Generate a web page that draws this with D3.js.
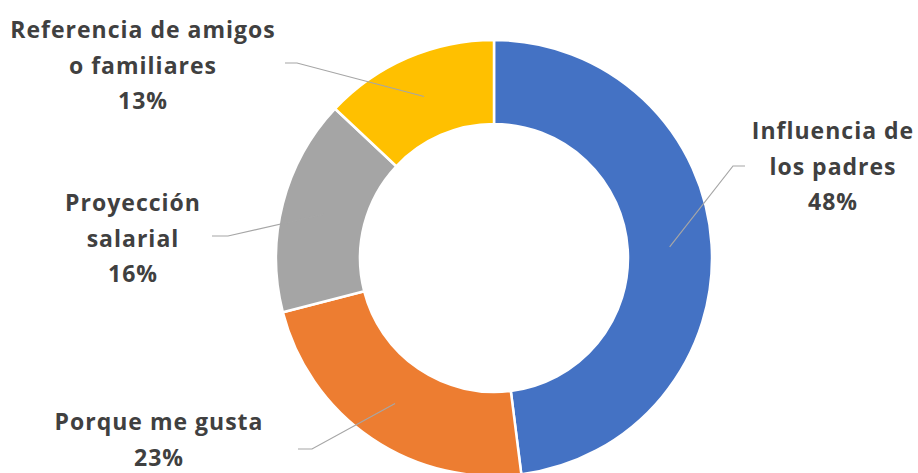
<!DOCTYPE html>
<html>
<head>
<meta charset="utf-8">
<script src="https://cdn.jsdelivr.net/npm/d3@7"></script>
<style>
  html, body { margin: 0; padding: 0; background: #fff; }
  svg { display: block; }
</style>
</head>
<body>
<svg id="chart" width="918" height="473"></svg>
<script>
// Motivos de elección: categories, shares and colours
const categories = ["Influencia de los padres", "Porque me gusta", "Proyección salarial", "Referencia de amigos o familiares"];
const values = [48, 23, 16, 13];
const colors = ["#4472C4", "#ED7D31", "#A5A5A5", "#FFC000"];
// Wrapped label lines for each category
const labelLines = [
  ["Influencia de", "los padres"],
  ["Porque me gusta"],
  ["Proyección", "salarial"],
  ["Referencia de amigos", "o familiares"]
];

const W = 918, H = 473;
const cx = 494, cy = 258;
const rOuter = 218, rInner = 134;

// label block anchor (centre x, first baseline y) and leader elbow points
const labelPos = [
  { x: 833, y: 139, elbow: [[745, 166], [733, 166]] },
  { x: 159, y: 430, elbow: [[298, 449], [312, 449]] },
  { x: 133, y: 211, elbow: [[212, 236], [228, 236]] },
  { x: 143, y: 38,  elbow: [[285, 63], [297, 63]] }
];

const svg = d3.select("#chart");
const g = svg.append("g").attr("transform", `translate(${cx},${cy})`);

const data = categories.map((c, i) => ({ cat: c, value: values[i], color: colors[i], lines: labelLines[i], pos: labelPos[i] }));

const pie = d3.pie().sort(null).value(d => d.value);
const arcs = pie(data);

const arc = d3.arc().innerRadius(rInner).outerRadius(rOuter);

g.selectAll("path.slice")
  .data(arcs)
  .join("path")
  .attr("class", "slice")
  .attr("d", arc)
  .attr("fill", d => d.data.color)
  .attr("stroke", "#fff")
  .attr("stroke-width", 2.5)
  .attr("stroke-linejoin", "round");

// leader lines from the label to the slice centroid
const line = d3.line();
svg.selectAll("path.leader")
  .data(arcs)
  .join("path")
  .attr("class", "leader")
  .attr("fill", "none")
  .attr("stroke", "#A6A6A6")
  .attr("stroke-width", 1.2)
  .attr("d", d => {
    const c = arc.centroid(d);
    const pts = d.data.pos.elbow.concat([[cx + c[0], cy + c[1]]]);
    return line(pts);
  });

// labels: category lines plus percentage
const lineH = 35.5;
const labels = svg.selectAll("text.label")
  .data(arcs)
  .join("text")
  .attr("class", "label")
  .attr("text-anchor", "middle")
  .attr("font-family", "'Open Sans', Lato, sans-serif")
  .attr("font-weight", 700)
  .attr("font-size", 23)
  .attr("letter-spacing", 1)
  .attr("fill", "#404040");

labels.each(function(d) {
  const t = d3.select(this);
  const lines = d.data.lines.concat([d3.format(".0%")(d.data.value / 100)]);
  lines.forEach((s, k) => {
    t.append("tspan")
      .attr("x", d.data.pos.x)
      .attr("y", d.data.pos.y + k * lineH)
      .text(s);
  });
});
</script>
</body>
</html>
